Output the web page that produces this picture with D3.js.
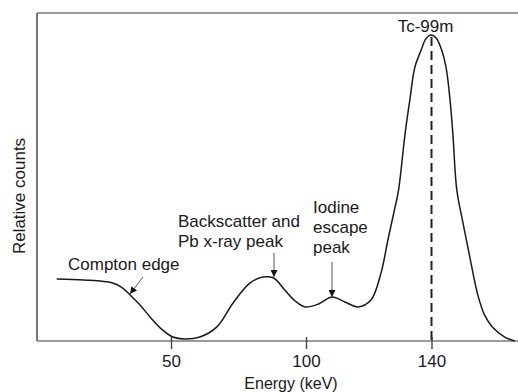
<!DOCTYPE html>
<html>
<head>
<meta charset="utf-8">
<script src="https://cdn.jsdelivr.net/npm/d3@7"></script>
<style>
  html, body { margin: 0; padding: 0; background: #fff; }
  svg text { font-family: "Liberation Sans", Arial, Helvetica, sans-serif; fill: #1a1a1a; }
</style>
</head>
<body>
<svg id="chart" width="518" height="392"></svg>
<script>
// ---- data ----
const energy = [8, 18, 28.5, 32, 35, 38.6, 42.3, 46, 50.7, 55, 60.7, 67, 73, 79.3, 84, 88, 92.2, 96, 99.6, 104, 108.3, 112.4, 116.6, 120.7, 123.9, 126.1, 128.4, 129.5, 131.6, 133.1, 134.7, 136.7, 138.2, 139.8, 141.5, 143.3, 144.7, 146, 146.9, 148.2, 150.2, 152.4, 155, 157.2, 159.7, 163.7, 166.9];
const counts = [18.9, 18.6, 17.7, 16.3, 14, 11, 7.3, 4, 1.2, 0.6, 1.2, 4.3, 11.6, 17.7, 19.5, 19.2, 15.5, 12.2, 10.4, 11.3, 13.4, 11.9, 10.4, 12.5, 20.7, 30.8, 40.9, 46, 63.4, 73.5, 83.5, 88.7, 92.1, 93.3, 92.4, 88.7, 83.5, 73.5, 63.4, 46, 36, 25.6, 14, 7.9, 4.3, 1.2, 0];
const xTicks = [50, 100, 140];
const peakEnergy = 140;
const xLabel = "Energy (keV)";
const yLabel = "Relative counts";

// ---- scales ----
const svg = d3.select("#chart");
// the original drawing's energy axis is not uniformly spaced
const x = d3.scaleLinear().domain([0, 50, 100, 140, 168]).range([35, 171, 306, 431.5, 518]);
const y = d3.scaleLinear().domain([0, 100]).range([341, 13]);

const axisColor = "#7a7a7a";

// frame: top and left lines
svg.append("line").attr("x1", 37).attr("x2", 518).attr("y1", y(100)).attr("y2", y(100))
  .attr("stroke", axisColor).attr("stroke-width", 1.6);
svg.append("line").attr("x1", 37).attr("x2", 37).attr("y1", y(100)).attr("y2", y(0))
  .attr("stroke", "#555").attr("stroke-width", 1.6);

// bottom axis
const gx = svg.append("g").attr("transform", `translate(0,${y(0)})`)
  .call(d3.axisBottom(x).tickValues(xTicks).tickFormat(d3.format("d")).tickSizeOuter(0).tickSizeInner(8).tickPadding(6));
gx.select(".domain").attr("d", `M37,0H518`).attr("stroke", axisColor).attr("stroke-width", 1.6);
gx.selectAll(".tick line").attr("y1", -4).attr("y2", 8).attr("stroke", "#444").attr("stroke-width", 1.4);
gx.selectAll(".tick text").attr("font-size", 17).attr("fill", "#1a1a1a")
  .attr("font-family", '"Liberation Sans", Arial, sans-serif');

// axis labels
svg.append("text").attr("x", 291).attr("y", 389)
  .attr("text-anchor", "middle").attr("font-size", 16).text(xLabel);
svg.append("text").attr("transform", "translate(25,196) rotate(-90)")
  .attr("text-anchor", "middle").attr("font-size", 17).text(yLabel);

// dashed line at photopeak
const peakCount = counts[energy.indexOf(139.8)];
svg.append("line").attr("x1", x(peakEnergy)).attr("x2", x(peakEnergy))
  .attr("y1", y(peakCount) + 2).attr("y2", y(0))
  .attr("stroke", "#222").attr("stroke-width", 2).attr("stroke-dasharray", "9,5");

// spectrum curve
const line = d3.line().x((d, i) => x(energy[i])).y(d => y(d)).curve(d3.curveCatmullRom.alpha(0.5));
svg.append("path").datum(counts).attr("d", line)
  .attr("fill", "none").attr("stroke", "#1a1a1a").attr("stroke-width", 1.5);

// arrowhead marker
svg.append("defs").append("marker").attr("id", "ah")
  .attr("viewBox", "0 0 10 10").attr("refX", 10).attr("refY", 5)
  .attr("markerWidth", 7).attr("markerHeight", 7).attr("markerUnits", "userSpaceOnUse")
  .attr("orient", "auto")
  .append("path").attr("d", "M0,0L10,5L0,10z").attr("fill", "#111");

function arrow(x1, y1, x2, y2) {
  svg.append("line").attr("x1", x1).attr("y1", y1).attr("x2", x2).attr("y2", y2)
    .attr("stroke", "#555").attr("stroke-width", 1).attr("marker-end", "url(#ah)");
}

function label(lines, x0, y0, anchor) {
  const t = svg.append("text").attr("font-size", 17).attr("text-anchor", anchor || "start");
  lines.forEach((s, i) => t.append("tspan").attr("x", x0).attr("y", y0 + i * 20).text(s));
}

// annotations
label(["Tc-99m"], x(peakEnergy) - 6, 32, "middle");
label(["Compton edge"], 68, 270);
arrow(143, 277, 130, 294);
label(["Backscatter and", "Pb x-ray peak"], 178, 227);
arrow(274, 253, 274, 277);
label(["Iodine", "escape", "peak"], 313, 213);
arrow(332, 262, 332, 297);
</script>
</body>
</html>
